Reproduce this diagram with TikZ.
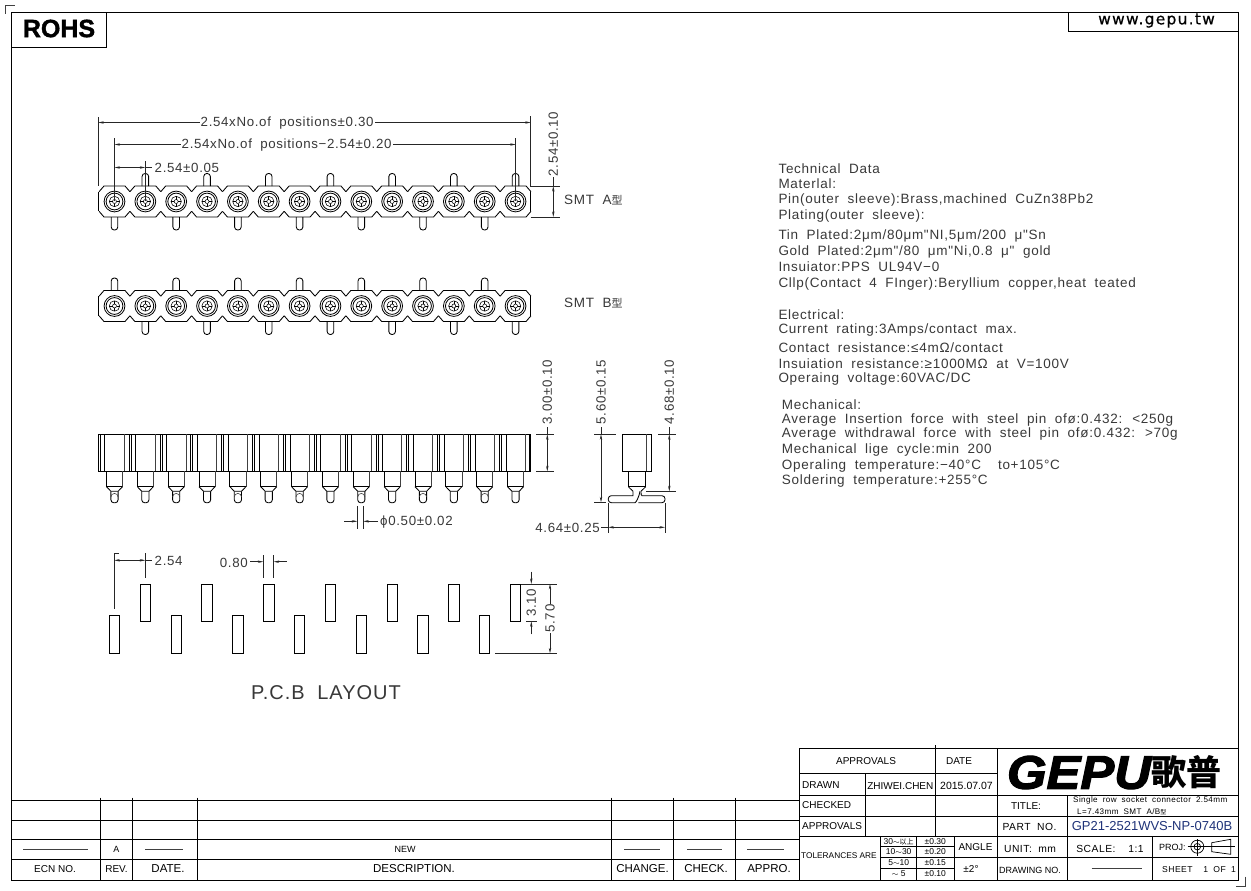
\documentclass[tikz,border=0pt]{standalone}
\usepackage{fontspec}
\usepackage{amsmath}
\usepackage{color}
\usepackage{tikz}
\usetikzlibrary{arrows.meta}
\setmainfont{Liberation Sans}
\newfontfamily\cadfont{Liberation Sans}[LetterSpace=5,WordSpace=1.9]
\newfontfamily\specfont{Liberation Sans}[LetterSpace=5.4,WordSpace=1.9]
\newfontfamily\webfont{DejaVu Sans}[LetterSpace=8,FakeBold=0.6]
\newfontfamily\heavyfont{Liberation Sans}[UprightFont=* Bold,FakeBold=1.5]
\newfontfamily\logofont{Liberation Sans}[UprightFont=* Bold Italic,FakeBold=2.5]
\newfontfamily\cjkfont{Noto Sans CJK SC}
\definecolor{cadgray}{gray}{0.22}
\definecolor{partblue}{RGB}{30,50,120}
\tikzset{
  cadline/.style={line width=0.85pt},
  thinline/.style={line width=0.6pt,black!75},
  dimline/.style={line width=0.6pt,black!85},
  spec/.style={anchor=base west,inner sep=0pt,text=cadgray,font=\specfont\fontsize{13.5}{15}\selectfont},
  dimlabel/.style={anchor=west,inner sep=0pt,yshift=-0.8pt,text=cadgray,font=\cadfont\fontsize{13.3}{15}\selectfont},
  dimtext/.style={anchor=west,inner sep=1pt,yshift=-0.8pt,fill=white,text=cadgray,font=\cadfont\fontsize{13.3}{15}\selectfont},
  vdimtext/.style={rotate=90,inner sep=1pt,fill=white,text=cadgray,font=\cadfont\fontsize{13.3}{15}\selectfont},
  blockhead/.style={inner sep=0pt,font=\fontsize{10}{12}\selectfont},
  blockwide/.style={inner sep=0pt,font=\cadfont\fontsize{10.3}{12}\selectfont},
  blockleft/.style={blockhead,anchor=west},
  tablefoot/.style={inner sep=0pt,font=\fontsize{11.5}{13}\selectfont},
  tolcell/.style={inner sep=0pt,font=\fontsize{8.5}{10}\selectfont},
}
\begin{document}
\begin{tikzpicture}[x=1pt,y=-1pt,>={Stealth[length=5.5pt,width=2.4pt]}]
  \useasboundingbox (0,0) rectangle (1251,891);
  % Sheet Frame
  \draw[cadline] (11.5,12.5) rectangle (1238.5,880);
  \draw[thinline] (5,14) -- (5,5) -- (15,5);
  \draw[thinline] (1245.7,876.7) -- (1245.7,886.7) -- (1235.7,886.7);
  \draw[cadline] (11.5,47) -- (106,47) -- (106,12.5);
  \node[inner sep=0pt,font=\heavyfont\fontsize{25}{27}\selectfont] (rohs) at (59,28.5) {ROHS};
  \draw[cadline] (1068.3,12.5) -- (1068.3,31.5) -- (1238.5,31.5);
  \node[inner sep=0pt,font=\webfont\fontsize{15.5}{17}\selectfont] (web) at (1156.5,20.5) {www.gepu.tw};
  % Top Views (SMT A and SMT B)
  \foreach \cy/\sh in {201.5/0,306/1} {
    \draw[cadline] (98.3,\cy-9.8) -- (98.3,\cy+9.8);
    \draw[cadline] (530.7,\cy-9.8) -- (530.7,\cy+9.8);
    \foreach \i in {1,...,14} {
      \pgfmathsetmacro{\cx}{114.5+30.85*(\i-1)}
      \pgfmathtruncatemacro{\down}{mod(\i+\sh,2)}
      \draw[cadline] (\cx-15.42,\cy-9.8) -- (\cx-10.5,\cy-15.5) -- (\cx+10.5,\cy-15.5) -- (\cx+15.42,\cy-9.8);
      \draw[cadline] (\cx-15.42,\cy+9.8) -- (\cx-10.5,\cy+15.5) -- (\cx+10.5,\cy+15.5) -- (\cx+15.42,\cy+9.8);
      \draw[line width=0.8pt] (\cx,\cy) circle (10.4pt);
      \draw[line width=0.8pt] (\cx,\cy) circle (8.4pt);
      \draw[line width=0.55pt] (\cx,\cy) circle (5.2pt);
      \draw[line width=0.55pt] (\cx,\cy) circle (2pt);
      \draw[line width=0.55pt] (\cx-5.2,\cy) -- (\cx-2,\cy) (\cx+2,\cy) -- (\cx+5.2,\cy);
      \draw[line width=0.55pt] (\cx,\cy-5.2) -- (\cx,\cy-2) (\cx,\cy+2) -- (\cx,\cy+5.2);
      \ifnum\down=1
        \draw[cadline,rounded corners=3pt] (\cx-3.3,\cy+15.5) -- (\cx-3.3,\cy+28.5) -- (\cx+3.3,\cy+28.5) -- (\cx+3.3,\cy+15.5);
      \else
        \draw[cadline,rounded corners=3pt] (\cx-3.3,\cy-15.5) -- (\cx-3.3,\cy-28) -- (\cx+3.3,\cy-28) -- (\cx+3.3,\cy-15.5);
      \fi
    }
  }
  \node[spec] (smta) at (564,204) {SMT A{\cjkfont\fontsize{11}{13}\selectfont 型}};
  \node[spec] (smtb) at (564,307) {SMT B{\cjkfont\fontsize{11}{13}\selectfont 型}};
  % Top View Dimensions
  \draw[dimline] (98.3,117) -- (98.3,186);
  \draw[dimline] (530.7,116) -- (530.7,186) -- (560,186);
  \draw[dimline] (530.7,217) -- (560,217);
  \draw[dimline,<->] (98.3,122.5) -- (530.7,122.5);
  \node[dimtext] (lenall) at (199.5,122.5) {2.54xNo.of positions±0.30};
  \draw[dimline] (114.5,138) -- (114.5,201);
  \draw[dimline] (515.7,138) -- (515.7,201);
  \draw[dimline,<->] (114.5,144.5) -- (515.7,144.5);
  \node[dimtext] (lenpin) at (180.5,144.5) {2.54xNo.of positions−2.54±0.20};
  \draw[dimline] (145.3,161) -- (145.3,201);
  \draw[dimline,<->] (114.5,167.5) -- (145.3,167.5);
  \draw[dimline] (145.3,167.5) -- (152,167.5);
  \node[dimlabel] (pitcha) at (154.5,167.5) {2.54±0.05};
  \draw[dimline,<->] (553.3,186) -- (553.3,217);
  \draw[dimline] (553.3,186) -- (553.3,175);
  \node[vdimtext] (heighta) at (553.3,144) {2.54±0.10};
  % Side View
  \draw[cadline] (98.3,434.3) rectangle (530.7,471.3);
  \draw[cadline] (529,434.3) -- (529,471.3);
  \foreach \i in {1,...,14} {
    \pgfmathsetmacro{\cx}{114.5+30.85*(\i-1)}
    \ifnum\i>1
      \draw[cadline] (\cx-16.2,434.3) -- (\cx-16.2,471.3);
    \fi
    \draw[cadline] (\cx-14.2,434.3) -- (\cx-14.2,471.3);
    \draw[cadline] (\cx-9.6,434.3) -- (\cx-9.6,471.3);
    \draw[thinline] (\cx+9.6,434.3) -- (\cx+9.6,471.3);
    \draw[cadline] (\cx-8,471.3) -- (\cx-8,486.7) -- (\cx+8,486.7);
    \draw[thinline] (\cx+8,486.7) -- (\cx+8,471.3);
    \draw[cadline] (\cx-8,486.7) -- (\cx-3.6,491.3) -- (\cx+3.6,491.3) -- (\cx+8,486.7);
    \draw[cadline,rounded corners=3pt] (\cx-3.6,491.3) -- (\cx-3.6,502.8) -- (\cx+3.6,502.8) -- (\cx+3.6,491.3);
  }
  \foreach \i in {1,3,...,13} {
    \pgfmathsetmacro{\cx}{114.5+30.85*(\i-1)}
    \draw[thinline] (\cx-3.6,497) arc[start angle=180,end angle=0,radius=3.6pt];
  }
  \draw[dimline] (536,434.3) -- (554,434.3);
  \draw[dimline] (536,471.3) -- (554,471.3);
  \draw[dimline,<->] (547.3,434.3) -- (547.3,471.3);
  \draw[dimline] (547.3,434.3) -- (547.3,427);
  \node[vdimtext] (heightb) at (547.3,392) {3.00±0.10};
  \draw[dimline] (357.3,506) -- (357.3,529);
  \draw[dimline] (363.3,506) -- (363.3,529);
  \draw[dimline,->] (344,521.3) -- (357.3,521.3);
  \draw[dimline,->] (378,521.3) -- (363.3,521.3);
  \node[dimlabel] (tipdia) at (380,521.3) {ϕ0.50±0.02};
  % End View
  \draw[cadline] (622.3,434.3) rectangle (651.3,471.3);
  \draw[thinline] (646.7,434.3) -- (646.7,471.3);
  \draw[cadline] (628.3,471.3) -- (628.3,486.7) -- (645.7,486.7) -- (645.7,471.3);
  \draw[cadline] (628.3,486.7) -- (633,491.3);
  \draw[cadline] (645.7,486.7) -- (641,491.3);
  \draw[cadline,rounded corners=3pt] (633,491.3) .. controls (633,494) and (633,495.7) .. (630,495.7) -- (608.3,495.7) -- (608.3,502.7) -- (632,502.7) .. controls (636,502.7) and (639,497) .. (640,491.3);
  \draw[cadline,rounded corners=3pt] (641,491.3) .. controls (641,494) and (641,495.7) .. (645,495.7) -- (665,495.7) -- (665,502.7) -- (638.3,502.7);
  \draw[dimline] (594.3,434.3) -- (615.7,434.3);
  \draw[dimline] (594.3,502.3) -- (606,502.3);
  \draw[dimline,<->] (601,434.3) -- (601,502.3);
  \draw[dimline] (601,434.3) -- (601,427);
  \node[vdimtext] (heightc) at (601,392) {5.60±0.15};
  \draw[dimline] (658,434.3) -- (676,434.3);
  \draw[dimline] (646,491.3) -- (676,491.3);
  \draw[dimline,<->] (669.3,434.3) -- (669.3,491.3);
  \draw[dimline] (669.3,434.3) -- (669.3,427);
  \node[vdimtext] (heightd) at (669.3,392) {4.68±0.10};
  \draw[dimline] (608.3,503) -- (608.3,533);
  \draw[dimline] (665,503) -- (665,533);
  \draw[dimline,<->] (608.3,527.3) -- (665,527.3);
  \draw[dimline] (608.3,527.3) -- (601,527.3);
  \node[dimlabel,anchor=east] (footlen) at (600,527.3) {4.64±0.25};
  % PCB Layout
  \foreach \i in {1,...,14} {
    \pgfmathsetmacro{\cx}{114.5+30.85*(\i-1)}
    \pgfmathtruncatemacro{\low}{mod(\i,2)}
    \ifnum\low=1
      \draw[cadline] (\cx-5.2,615.3) rectangle (\cx+5.2,653.3);
    \else
      \draw[cadline] (\cx-5.2,584) rectangle (\cx+5.2,621.3);
    \fi
  }
  \draw[dimline] (119,553.3) -- (114.3,553.3) -- (114.3,609.3);
  \draw[dimline] (145.3,553.3) -- (145.3,577.7);
  \draw[dimline,<->] (114.3,560.3) -- (145.3,560.3);
  \draw[dimline] (145.3,560.3) -- (152,560.3);
  \node[dimlabel] (padpitch) at (154.5,560.3) {2.54};
  \draw[dimline] (263.3,555) -- (263.3,577.7);
  \draw[dimline] (273.7,555) -- (273.7,577.7);
  \draw[dimline,->] (250,561.7) -- (263.3,561.7);
  \draw[dimline,->] (286.7,561.7) -- (273.7,561.7);
  \node[dimlabel,anchor=east] (padwidth) at (248,561.7) {0.80};
  \draw[dimline] (520.7,584) -- (556.7,584);
  \draw[dimline] (526,621.3) -- (536.7,621.3);
  \draw[dimline] (495,653.3) -- (556.7,653.3);
  \draw[dimline,->] (531.3,571.7) -- (531.3,584);
  \draw[dimline,->] (531.3,634.3) -- (531.3,621.3);
  \node[vdimtext] (padshort) at (531.3,603) {3.10};
  \draw[dimline,<->] (550,584) -- (550,653.3);
  \node[vdimtext] (padtall) at (550,618.5) {5.70};
  \node[inner sep=0pt,text=cadgray,font=\cadfont\fontsize{20}{22}\selectfont] (layout) at (326,693) {P.C.B LAYOUT};
  % Technical Data
  \node[spec] (t1) at (778.3,173) {Technical Data};
  \node[spec] (t2) at (778.3,188.3) {Materlal:};
  \node[spec] (t3) at (778.3,203.3) {Pin(outer sleeve):Brass,machined CuZn38Pb2};
  \node[spec] (t4) at (778.3,219) {Plating(outer sleeve):};
  \node[spec] (t5) at (778.3,239.5) {Tin Plated:2μm/80μm"NI,5μm/200 μ"Sn};
  \node[spec] (t6) at (778.3,255.7) {Gold Plated:2μm"/80 μm"Ni,0.8 μ" gold};
  \node[spec] (t7) at (778.3,271.5) {Insuiator:PPS UL94V−0};
  \node[spec] (t8) at (778.3,287.5) {Cllp(Contact 4 FInger):Beryllium copper,heat teated};
  \node[spec] (e1) at (778.3,319) {Electrical:};
  \node[spec] (e2) at (778.3,333) {Current rating:3Amps/contact max.};
  \node[spec] (e3) at (778.3,352.3) {Contact resistance:≤4mΩ/contact};
  \node[spec] (e4) at (778.3,368.5) {Insuiation resistance:≥1000MΩ at V=100V};
  \node[spec] (e5) at (778.3,382.3) {Operaing voltage:60VAC/DC};
  \node[spec] (m1) at (781.7,409.5) {Mechanical:};
  \node[spec] (m2) at (781.7,423) {Average Insertion force with steel pin ofø:0.432: <250g};
  \node[spec] (m3) at (781.7,437.7) {Average withdrawal force with steel pin ofø:0.432: >70g};
  \node[spec] (m4) at (781.7,453.5) {Mechanical lige cycle:min 200};
  \node[spec] (m5) at (781.7,469) {Operaling temperature:−40°C \ to+105°C};
  \node[spec] (m6) at (781.7,484.5) {Soldering temperature:+255°C};
  % Revision Table
  \foreach \yy in {800,820,839.5,859.3} {
    \draw[cadline] (11.5,\yy) -- (799,\yy);
  }
  \foreach \xx in {100.7,132.5,197.3,611.6,673.4,735.6} {
    \draw[cadline] (\xx,797.5) -- (\xx,880);
  }
  \foreach \xa/\xb in {23/88,145/182.5,624/660,687/722,747/784} {
    \draw[thinline] (\xa,849.5) -- (\xb,849.5);
  }
  \node[tablefoot,font=\fontsize{9}{11}\selectfont] (reva) at (116.5,849.5) {A};
  \node[tablefoot,font=\fontsize{9}{11}\selectfont] (new) at (405,849.5) {NEW};
  \node[tablefoot,font=\fontsize{10}{12}\selectfont] (ecn) at (55,869) {ECN NO.};
  \node[tablefoot,font=\fontsize{10}{12}\selectfont] (rev) at (116.5,869) {REV.};
  \node[tablefoot] (date) at (168,869) {DATE.};
  \node[tablefoot] (descr) at (414,869) {DESCRIPTION.};
  \node[tablefoot] (change) at (642.5,869) {CHANGE.};
  \node[tablefoot] (check) at (706,869) {CHECK.};
  \node[tablefoot] (appro) at (769,869) {APPRO.};
  % Title Block
  \draw[cadline] (799,748.3) rectangle (1238.5,880);
  \draw[cadline] (799,773.3) -- (997.7,773.3);
  \draw[cadline] (799,795) -- (1238.5,795);
  \draw[cadline] (799,816) -- (1238.5,816);
  \draw[cadline] (799,836.7) -- (1238.5,836.7);
  \draw[cadline] (954,857.7) -- (1238.5,857.7);
  \draw[cadline] (880.7,846.7) -- (954,846.7);
  \draw[cadline] (880.7,857.7) -- (954,857.7);
  \draw[cadline] (880.7,868.3) -- (954,868.3);
  \draw[cadline] (865,773.3) -- (865,836.7);
  \draw[cadline] (935.7,745) -- (935.7,836.7);
  \draw[cadline] (997.7,748.3) -- (997.7,880);
  \draw[cadline] (1067.7,795) -- (1067.7,880);
  \draw[cadline] (1152.3,836.7) -- (1152.3,880);
  \draw[cadline] (880.7,836.7) -- (880.7,880);
  \draw[cadline] (916.7,836.7) -- (916.7,880);
  \draw[cadline] (954,836.7) -- (954,880);
  \node[blockhead] (apphead) at (866,761) {APPROVALS};
  \node[blockhead] (datehead) at (959,761) {DATE};
  \node[blockleft] (drawn) at (802,785) {DRAWN};
  \node[blockhead] (drawner) at (900.3,786) {ZHIWEI.CHEN};
  \node[blockhead,font=\fontsize{10.5}{12}\selectfont] (drawdate) at (966.5,786) {2015.07.07};
  \node[blockleft] (checked) at (802,805.5) {CHECKED};
  \node[blockleft] (approvals) at (802,826.5) {APPROVALS};
  \node[blockleft,font=\fontsize{8.3}{10}\selectfont] (tolhead) at (801,855.5) {TOLERANCES ARE};
  \node[tolcell] (tola) at (898.7,841.5) {30$\sim${\cjkfont\fontsize{7}{8}\selectfont 以上}};
  \node[tolcell] (tolb) at (898.7,852) {10$\sim$30};
  \node[tolcell] (tolc) at (898.7,862.5) {5$\sim$10};
  \node[tolcell] (told) at (898.7,873.5) {$\sim$ 5};
  \node[tolcell] (vala) at (935.3,841.5) {±0.30};
  \node[tolcell] (valb) at (935.3,852) {±0.20};
  \node[tolcell] (valc) at (935.3,862.5) {±0.15};
  \node[tolcell] (vald) at (935.3,873.5) {±0.10};
  \node[blockhead] (angle) at (975.5,847) {ANGLE};
  \node[blockhead] (angleval) at (971,869) {±2°};
  \node[blockhead] (titlehead) at (1026,806) {TITLE:};
  \node[inner sep=0pt,anchor=west,font=\cadfont\fontsize{8.1}{9}\selectfont] (titlea) at (1073,800.5) {Single row socket connector 2.54mm};
  \node[inner sep=0pt,anchor=west,font=\cadfont\fontsize{8.1}{9}\selectfont] (titleb) at (1077,811.5) {L=7.43mm SMT A/B{\cjkfont\fontsize{6}{7}\selectfont 型}};
  \node[blockwide] (partno) at (1029.5,827) {PART NO.};
  \node[inner sep=0pt,text=partblue,font=\fontsize{13}{15}\selectfont] (partval) at (1152,826) {GP21-2521WVS-NP-0740B};
  \node[blockwide] (unit) at (1030,849) {UNIT: mm};
  \node[blockwide] (scale) at (1110,849) {SCALE: \ 1:1};
  \node[blockleft,font=\fontsize{9}{11}\selectfont] (proj) at (1159,847) {PROJ:};
  \node[blockleft,font=\fontsize{9}{11}\selectfont] (drawno) at (999,870.5) {DRAWING NO.};
  \draw[thinline] (1091.7,868.3) -- (1141.7,868.3);
  \node[blockleft,font=\cadfont\fontsize{8.6}{11}\selectfont] (sheet) at (1162,869.5) {SHEET \ 1 OF 1};
  % Projection Symbol
  \draw[line width=0.7pt] (1197.3,846.7) circle (6.5pt);
  \draw[line width=0.7pt] (1197.3,846.7) circle (3.3pt);
  \draw[line width=0.7pt] (1187.7,846.7) -- (1235,846.7);
  \draw[line width=0.7pt] (1197.3,839) -- (1197.3,856);
  \draw[line width=0.7pt] (1211.7,842.7) -- (1230.7,839.3) -- (1230.7,854.3) -- (1211.7,851.7) -- cycle;
  % Logo
  \node[inner sep=0pt,xscale=1.08,font=\logofont\fontsize{47}{49}\selectfont] (logo) at (1079,772.5) {GEPU};
  \node[inner sep=0pt,anchor=west,font=\cjkfont\bfseries\fontsize{35}{37}\selectfont] (logocjk) at (1151,772) {歌普};
\end{tikzpicture}
\end{document}
